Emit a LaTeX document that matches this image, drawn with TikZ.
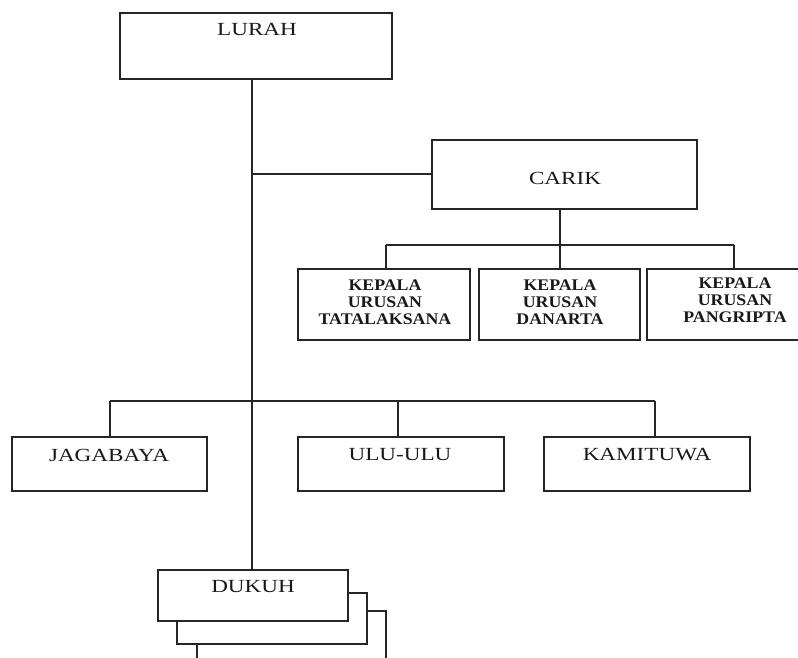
\documentclass[tikz,border=0pt]{standalone}
\usepackage{fontspec}
\setmainfont{Liberation Serif}[FakeStretch=1.25]
\newfontfamily\kfont{Liberation Serif}[FakeStretch=1.1]
\begin{document}
\begin{tikzpicture}[x=1pt,y=-1pt,
  box/.style={draw=black!85, line width=1.6pt, fill=white, rectangle, inner sep=0pt},
  lbl/.style={inner sep=0pt, font=\fontsize{18.5}{20}\selectfont, text=black!90},
  klbl/.style={inner sep=0pt, align=center, font=\kfont\bfseries\fontsize{16.2}{17}\selectfont, text=black!90},
  conn/.style={draw=black!85, line width=1.2pt}]
\useasboundingbox (0,0) rectangle (798,657);
\clip (0,0) rectangle (798,657);
% boxes
\node[box, minimum width=272, minimum height=66] (lurah) at (256,46) {};
\node[lbl] (lurahT) at (257,29.5) {LURAH};
\node[box, minimum width=265, minimum height=69] (carik) at (564.5,174.5) {};
\node[lbl] (carikT) at (565,178) {CARIK};
\node[box, minimum width=172, minimum height=71] (k1) at (384,304.5) {};
\node[klbl] (k1T) at (385,302.5) {KEPALA\\URUSAN\\TATALAKSANA};
\node[box, minimum width=161, minimum height=71] (k2) at (559.5,304.5) {};
\node[klbl] (k2T) at (560,302.5) {KEPALA\\URUSAN\\DANARTA};
\node[box, minimum width=160, minimum height=71] (k3) at (727,304.5) {};
\node[klbl] (k3T) at (735,300.5) {KEPALA\\URUSAN\\PANGRIPTA};
\node[box, minimum width=195, minimum height=54] (jaga) at (109.5,464) {};
\node[lbl] (jagaT) at (109,455) {JAGABAYA};
\node[box, minimum width=206, minimum height=54] (ulu) at (401,464) {};
\node[lbl] (uluT) at (400,455) {ULU-ULU};
\node[box, minimum width=206, minimum height=54] (kami) at (647,464) {};
\node[lbl] (kamiT) at (647,455) {KAMITUWA};
% dukuh stack
\node[box, minimum width=189, minimum height=60] (dukuh3) at (291.5,641) {};
\node[box, minimum width=190, minimum height=51] (dukuh2) at (272,618.5) {};
\node[box, minimum width=190, minimum height=51] (dukuh) at (253,595.5) {};
\node[lbl] (dukuhT) at (253,587) {DUKUH};
% coordinates
\coordinate (tTop) at (252,79);
\coordinate (tCarik) at (252,174);
\coordinate (tBot) at (252,570);
\coordinate (kc) at (560,245);
\coordinate (kl) at (386,245);
\coordinate (kr) at (734,245);
\coordinate (bl) at (110,401);
\coordinate (bm) at (398,401);
\coordinate (br) at (655,401);
% connectors
\draw[conn] (tTop) -- (tBot);
\draw[conn] (tCarik) -- (tCarik -| carik.west);
\draw[conn] (carik.south -| kc) -- (kc);
\draw[conn] (kl) -- (kr);
\draw[conn] (kl) -- (kl |- k1.north);
\draw[conn] (kc) -- (kc |- k2.north);
\draw[conn] (kr) -- (kr |- k3.north);
\draw[conn] (bl) -- (br);
\draw[conn] (bl) -- (bl |- jaga.north);
\draw[conn] (bm) -- (bm |- ulu.north);
\draw[conn] (br) -- (br |- kami.north);
\end{tikzpicture}
\end{document}
